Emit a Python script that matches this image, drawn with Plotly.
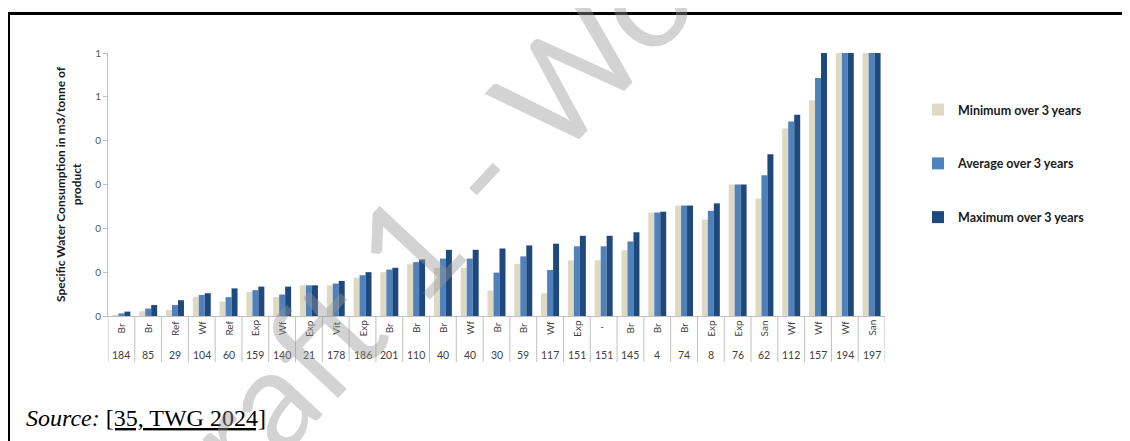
import plotly.graph_objects as go

# ── Data ───────────────────────────────────────────────────
types = ["Br", "Br", "Ref", "Wf", "Ref", "Exp", "Wf", "Exp", "Vit", "Exp",
         "Br", "Br", "Br", "Wf", "Br", "Br", "Wf", "Exp", "'", "Br",
         "Br", "Br", "Exp", "Exp", "San", "Wf", "Wf", "Wf", "San"]
ids = ["184", "85", "29", "104", "60", "159", "140", "21", "178", "186",
       "201", "110", "40", "40", "30", "59", "117", "151", "151", "145",
       "4", "74", "8", "76", "62", "112", "157", "194", "197"]

min_vals = [0.0015, 0.011, 0.014, 0.044, 0.033, 0.055, 0.043, 0.070, 0.070, 0.087,
            0.100, 0.118, 0.110, 0.110, 0.058, 0.119, 0.052, 0.127, 0.127, 0.150,
            0.236, 0.252, 0.220, 0.300, 0.268, 0.428, 0.492, 0.6, 0.6]
avg_vals = [0.006, 0.017, 0.025, 0.048, 0.043, 0.059, 0.049, 0.070, 0.074, 0.093,
            0.106, 0.123, 0.131, 0.131, 0.099, 0.136, 0.105, 0.159, 0.159, 0.170,
            0.236, 0.252, 0.240, 0.300, 0.321, 0.444, 0.543, 0.6, 0.6]
max_vals = [0.010, 0.025, 0.036, 0.052, 0.063, 0.067, 0.067, 0.070, 0.080, 0.100,
            0.110, 0.129, 0.151, 0.151, 0.154, 0.161, 0.165, 0.183, 0.183, 0.191,
            0.238, 0.252, 0.257, 0.300, 0.369, 0.459, 0.6, 0.6, 0.6]

y_ticks = [0, 0.1, 0.2, 0.3, 0.4, 0.5, 0.6]
y_tick_labels = ["0", "0", "0", "0", "0", "1", "1"]

series = [("Minimum over 3 years", min_vals, "#ddd9c3"),
          ("Average over 3 years", avg_vals, "#4f81bd"),
          ("Maximum over 3 years", max_vals, "#1f497d")]

# ── Layout helpers (screen pixel -> paper) ─────────────────
# page body has an 8px margin, so the figure is 8px smaller than the window
OFF = 8
W, H = 1130 - OFF, 441 - OFF
L, R, T, B = 108, 885, 53, 316          # plot area in window pixels
def px(x): return (x - L) / (R - L)
def py(y): return (B - y) / (B - T)

FONT = "Lato, 'Open Sans', sans-serif"
idx = list(range(len(ids)))

fig = go.Figure()
for k, (name, vals, col) in enumerate(series):
    fig.add_trace(go.Bar(x=idx, y=vals, name=name, marker_color=col,
                         marker_line_width=0, legendgroup=f"g{k}"))

# category labels (two rows) + dividers
annos = []
for i in idx:
    annos.append(dict(x=i, y=py(328), xref="x", yref="paper", text=types[i],
                      textangle=-90, showarrow=False, xanchor="center", yanchor="middle",
                      font=dict(size=10, color="#404040", family=FONT)))
    annos.append(dict(x=i, y=py(355), xref="x", yref="paper", text=ids[i],
                      showarrow=False, xanchor="center", yanchor="middle",
                      font=dict(size=10.5, color="#404040", family=FONT)))

shapes = []
for i in range(len(ids) + 1):
    shapes.append(dict(type="line", xref="x", yref="paper", x0=i - 0.5, x1=i - 0.5,
                       y0=0, y1=py(362), line=dict(color="#bfbfbf", width=1)))

# page border
shapes.append(dict(type="line", xref="paper", yref="paper", x0=px(8.5), x1=px(1140),
                   y0=py(13.5), y1=py(13.5), line=dict(color="black", width=3)))
shapes.append(dict(type="line", xref="paper", yref="paper", x0=px(8.5), x1=px(8.5),
                   y0=py(12), y1=py(450), line=dict(color="black", width=3)))

# y axis title
annos.append(dict(x=px(68.5), y=py(184.5), xref="paper", yref="paper",
                  text="Specific Water Consumption in m3/tonne of<br>product",
                  textangle=-90, showarrow=False, xanchor="center", yanchor="middle",
                  font=dict(size=12, color="#1a1a1a", family=FONT, weight="bold")))

# source line
annos.append(dict(x=px(24), y=py(418), xref="paper", yref="paper",
                  text="<i>Source:</i> <u>[35, TWG 2024]</u>", showarrow=False,
                  xanchor="left", yanchor="middle",
                  font=dict(size=24, color="black", family="'Liberation Serif', serif")))

# watermark
annos.append(dict(x=px(626), y=py(10), xref="paper", yref="paper",
                  text="Draft 1 - Working Draft", textangle=-47, showarrow=False,
                  xanchor="center", yanchor="middle",
                  font=dict(size=140, color="rgba(150,150,150,0.42)", family=FONT)))

fig.update_layout(
    width=W, height=H,
    margin=dict(l=L - OFF, r=1130 - R, t=T - OFF, b=441 - B),
    paper_bgcolor="white", plot_bgcolor="white",
    barmode="group", bargap=0.33, bargroupgap=0,
    font=dict(family=FONT, color="#404040"),
    showlegend=True,
    legend=dict(x=px(918), y=py(95), xanchor="left", yanchor="top",
                tracegroupgap=34.5, font=dict(size=12.5, color="#1a1a1a", weight="bold"),
                itemclick=False),
    annotations=annos, shapes=shapes,
)
fig.update_xaxes(range=[-0.5, len(ids) - 0.5], showticklabels=False, ticks="",
                 showgrid=False, zeroline=False, showline=True,
                 linecolor="#bfbfbf", linewidth=1)
fig.update_yaxes(range=[0, 0.6], tickmode="array", tickvals=y_ticks, ticktext=y_tick_labels,
                 ticks="outside", ticklen=4, tickcolor="#bfbfbf", showgrid=False,
                 zeroline=False, showline=True, linecolor="#bfbfbf", linewidth=1,
                 tickfont=dict(size=10, color="#595959"))

fig.write_html("out.html")
